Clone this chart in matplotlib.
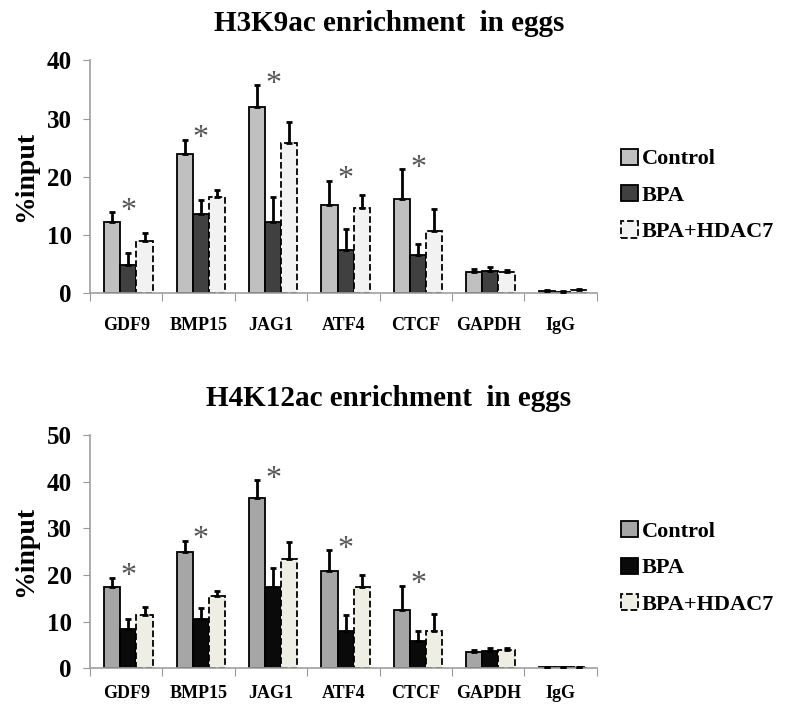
import numpy as np
import matplotlib
matplotlib.use('Agg')
import matplotlib.pyplot as plt
from matplotlib.patches import Patch

plt.rcParams['font.family'] = ['Liberation Serif', 'DejaVu Serif']
plt.rcParams['font.weight'] = 'bold'

genes = ['GDF9', 'BMP15', 'JAG1', 'ATF4', 'CTCF', 'GAPDH', 'IgG']
groups = ['Control', 'BPA', 'BPA+HDAC7']

# H3K9ac (top panel): means and upper error
h3_control = [12.3, 24.0, 32.0, 15.1, 16.1, 3.6, 0.45]
h3_bpa = [4.9, 13.6, 12.3, 7.4, 6.6, 3.8, 0.2]
h3_hdac = [9.0, 16.6, 25.8, 14.6, 10.7, 3.7, 0.55]
h3_control_err = [1.6, 2.3, 3.7, 4.2, 5.2, 0.5, 0.15]
h3_bpa_err = [2.0, 2.4, 4.3, 3.7, 1.8, 0.7, 0.15]
h3_hdac_err = [1.3, 1.1, 3.6, 2.3, 3.7, 0.3, 0.2]

# H4K12ac (bottom panel)
h4_control = [17.5, 25.0, 36.5, 20.8, 12.5, 3.4, 0.2]
h4_bpa = [8.5, 10.5, 17.4, 7.9, 5.9, 3.6, 0.2]
h4_hdac = [11.5, 15.4, 23.5, 17.4, 7.9, 3.9, 0.2]
h4_control_err = [1.9, 2.3, 3.8, 4.5, 5.1, 0.5, 0.05]
h4_bpa_err = [2.0, 2.5, 4.1, 3.6, 2.0, 0.7, 0.05]
h4_hdac_err = [1.7, 1.2, 3.5, 2.5, 3.7, 0.4, 0.05]

# genes marked with a significance star
star_genes = ['GDF9', 'BMP15', 'JAG1', 'ATF4', 'CTCF']


def draw_panel(ax, title, means, errs, colors, ymax, legend_y, xpad):
    x = np.arange(len(genes))
    w = 0.223
    shift = 0.03
    styles = ['solid', 'solid', 'dashed']
    handles = []
    for k in range(3):
        pos = x + shift + (k - 1) * w
        ax.bar(pos, means[k], width=w, color=colors[k], edgecolor='black',
               linewidth=1.3, linestyle=styles[k], zorder=2)
        ax.errorbar(pos, means[k], yerr=[np.zeros(len(genes)), errs[k]],
                    fmt='none', ecolor='black', elinewidth=2.0, capsize=2.5,
                    capthick=2.0, zorder=3)
        handles.append(Patch(facecolor=colors[k], edgecolor='black',
                             linestyle=styles[k], linewidth=1.3, label=groups[k]))
    for g in star_genes:
        i = genes.index(g)
        top = means[0][i] + errs[0][i]
        ax.text(i + shift, top + ymax * 0.005, '*', ha='center', va='center',
                fontsize=23, color='#555555', fontweight='normal')

    ax.set_xlim(-0.5, len(genes) - 0.5)
    ax.set_ylim(0, ymax)
    ax.set_yticks(np.arange(0, ymax + 1, 10))
    ax.set_xticks(np.arange(-0.5, len(genes), 1.0))
    ax.set_xticklabels([])
    ax.set_xticks(x, minor=True)
    ax.set_xticklabels(genes, minor=True, fontsize=13, fontweight='bold')
    ax.tick_params(axis='x', which='minor', length=0, pad=xpad)
    ax.tick_params(axis='x', which='major', length=6, color='#999999', direction='out')
    ax.tick_params(axis='y', labelsize=18, length=5, color='#999999', pad=8)
    for lab in ax.get_yticklabels():
        lab.set_fontweight('bold')
    for s in ['top', 'right']:
        ax.spines[s].set_visible(False)
    for s in ['left', 'bottom']:
        ax.spines[s].set_color('#a0a0a0')
        ax.spines[s].set_linewidth(1.2)
    ax.set_ylabel('%input', fontsize=20, fontweight='bold', labelpad=6)
    ax.set_title(title, fontsize=21, fontweight='bold', pad=21, x=0.59)
    ax.legend(handles=handles, loc='center left', bbox_to_anchor=(1.03, legend_y),
              frameon=False, fontsize=16, handlelength=0.75, handleheight=0.75,
              handletextpad=0.2, labelspacing=0.7, borderaxespad=0)


fig = plt.figure(figsize=(7.87, 7.10), dpi=100)
ax1 = fig.add_axes([0.1144, 0.587, 0.644, 0.328])
ax2 = fig.add_axes([0.1144, 0.059, 0.644, 0.328])

draw_panel(ax1, 'H3K9ac enrichment  in eggs',
           [h3_control, h3_bpa, h3_hdac],
           [h3_control_err, h3_bpa_err, h3_hdac_err],
           ['#c0c0c0', '#404040', '#f2f2f2'], 40, 0.42, 17)
draw_panel(ax2, 'H4K12ac enrichment  in eggs',
           [h4_control, h4_bpa, h4_hdac],
           [h4_control_err, h4_bpa_err, h4_hdac_err],
           ['#a6a6a6', '#0a0a0a', '#eeeee4'], 50, 0.43, 12)

fig.savefig('out.png', dpi=100)
